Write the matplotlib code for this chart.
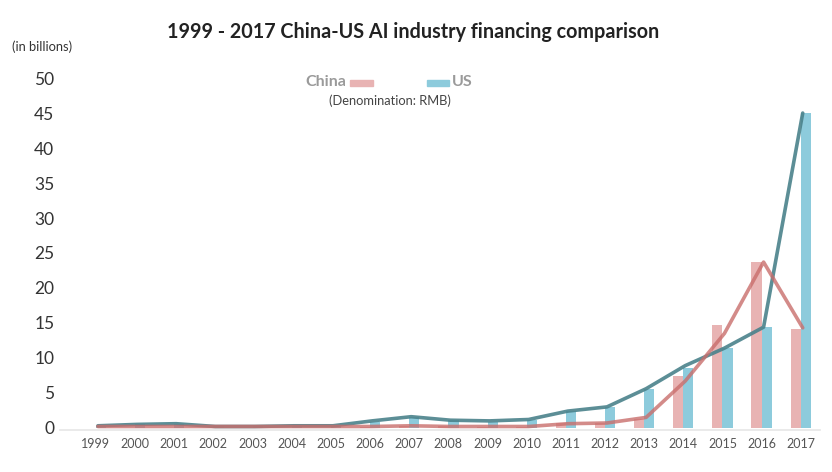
import numpy as np
import matplotlib
matplotlib.use('Agg')
import matplotlib.pyplot as plt

plt.rcParams['font.family'] = ['Lato', 'DejaVu Sans']

################################################
years = list(range(1999, 2018))
# bar heights (billions RMB)
china_bar = [0.0, 0.0, 0.0, 0.0, 0.0, 0.0, 0.0, 0.1, 0.3, 0.2, 0.1, 0.1, 0.7, 0.7, 1.2, 7.4, 14.7, 23.7, 14.1]
us_bar    = [0.3, 0.5, 0.6, 0.2, 0.2, 0.2, 0.2, 0.9, 1.6, 1.1, 0.9, 1.1, 2.4, 3.0, 5.6, 8.5, 11.4, 14.4, 45.0]
# trend lines as drawn
china_line = [0.2, 0.2, 0.2, 0.2, 0.2, 0.2, 0.2, 0.2, 0.3, 0.2, 0.2, 0.2, 0.6, 0.7, 1.5, 6.7, 13.5, 23.7, 14.3]
us_line    = [0.3, 0.5, 0.6, 0.2, 0.2, 0.3, 0.3, 1.0, 1.6, 1.1, 1.0, 1.2, 2.4, 3.0, 5.6, 8.9, 11.4, 14.4, 45.0]
yticks = list(range(0, 55, 5))
################################################

c_china_bar = '#e8b3b3'
c_us_bar = '#8dcbdc'
c_china_line = '#c96e6c'
c_us_line = '#4a828b'

fig = plt.figure(figsize=(8.32, 4.72), dpi=100, facecolor='w')
ax = fig.add_axes([0.072, 0.089, 0.914, 0.753])

x = np.array(years)
w = 0.26
ax.bar(x - w/2, china_bar, width=w, color=c_china_bar, zorder=2)
ax.bar(x + w/2, us_bar, width=w, color=c_us_bar, zorder=2)
ax.plot(x + 0.05, us_line, color=c_us_line, lw=2.6, alpha=0.9, zorder=3, solid_capstyle='round')
ax.plot(x + 0.05, china_line, color=c_china_line, lw=2.6, alpha=0.8, zorder=4, solid_capstyle='round')

ax.set_xlim(1999 - 0.92, 2017 + 0.5)
ax.set_ylim(-0.3, 50.5)
ax.set_xticks(years)
ax.set_xticklabels([str(y) for y in years], fontsize=9, color='#555555')
ax.set_yticks(yticks)
ax.set_yticklabels([str(t) for t in yticks], fontsize=12.5, color='#333333')
ax.tick_params(axis='both', length=0)
ax.tick_params(axis='x', pad=6)
ax.tick_params(axis='y', pad=4)
for s in ['top', 'right', 'left']:
    ax.spines[s].set_visible(False)
ax.spines['bottom'].set_color('#e6e6e6')
ax.spines['bottom'].set_linewidth(1.2)

fig.text(0.496, 0.932, '1999 - 2017 China-US AI industry financing comparison',
         ha='center', va='center', fontsize=14.2, fontweight='bold', color='#222222')
fig.text(0.014, 0.900, '(in billions)', ha='left', va='center', fontsize=9.3, color='#333333')

# legend
fig.text(0.416, 0.826, 'China', ha='right', va='center', fontsize=11.5, color='#9a9a9a', fontweight='bold')
fig.patches.append(plt.Rectangle((0.421, 0.818), 0.027, 0.012, transform=fig.transFigure,
                                 color=c_china_bar, figure=fig))
fig.patches.append(plt.Rectangle((0.513, 0.818), 0.027, 0.012, transform=fig.transFigure,
                                 color=c_us_bar, figure=fig))
fig.text(0.543, 0.826, 'US', ha='left', va='center', fontsize=11.5, color='#9a9a9a', fontweight='bold')
fig.text(0.469, 0.787, '(Denomination: RMB)', ha='center', va='center', fontsize=9.3, color='#444444')

fig.savefig('out.png', dpi=100, facecolor='w')
